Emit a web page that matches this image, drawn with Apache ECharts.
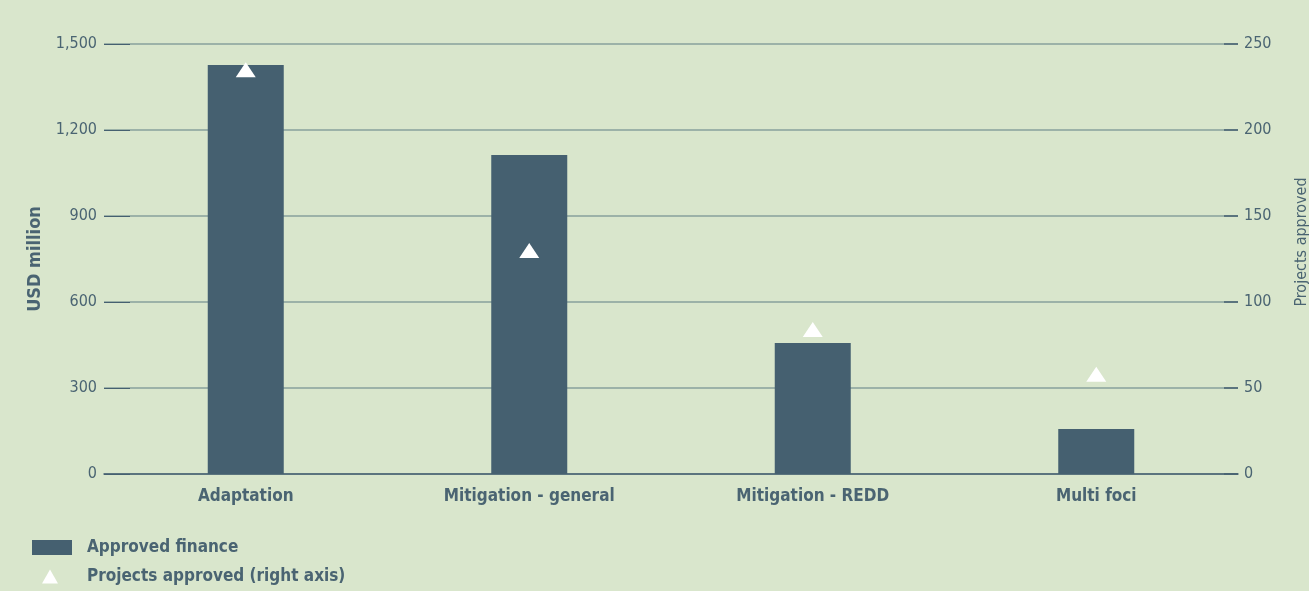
<!DOCTYPE html>
<html><head><meta charset="utf-8">
<script src="https://cdn.jsdelivr.net/npm/echarts@6/dist/echarts.min.js"></script>
<style>html,body{margin:0;padding:0;background:#d9e6cc;}#c{width:1309px;height:591px;}</style>
</head><body><div id="c"></div>
<script>
const categories = ['Adaptation', 'Mitigation - general', 'Mitigation - REDD', 'Multi foci'];
const approvedFinance = [1427, 1113, 457, 157];
const projectsApproved = [235, 130, 84, 58];
const leftTicks = { min: 0, max: 1500, interval: 300 };
const rightTicks = { min: 0, max: 250, interval: 50 };

const txt = '#4a6472';
const dark = '#456070';
const font = 'DejaVu Sans Condensed';
const chart = echarts.init(document.getElementById('c'));
chart.setOption({
  backgroundColor: '#d9e6cc',
  animation: false,
  textStyle: { fontFamily: font },
  grid: { left: 104, right: 71, top: 44, bottom: 117, outerBoundsMode: 'none' },
  legend: [{
    data: [{ name: 'Approved finance', icon: 'rect' }],
    orient: 'vertical', left: 27, top: 534,
    itemWidth: 40, itemHeight: 15,
    textStyle: { color: txt, fontSize: 17, fontWeight: 'bold', fontFamily: font, padding: [0, 0, 0, 10] }
  }, {
    data: [{ name: 'Projects approved (right axis)', icon: 'triangle' }],
    orient: 'vertical', left: 37, top: 563,
    itemWidth: 16, itemHeight: 14,
    textStyle: { color: txt, fontSize: 17, fontWeight: 'bold', fontFamily: font, padding: [0, 0, 0, 24] }
  }],
  xAxis: {
    type: 'category', data: categories,
    axisLine: { lineStyle: { color: dark, width: 1.5 } },
    axisTick: { show: false },
    axisLabel: { color: txt, fontSize: 17, fontWeight: 'bold', margin: 14 }
  },
  yAxis: [{
    type: 'value', min: leftTicks.min, max: leftTicks.max, interval: leftTicks.interval,
    name: 'USD million', nameLocation: 'middle', nameGap: 60, nameRotate: 90,
    nameTextStyle: { color: txt, fontSize: 18, fontWeight: 'bold' },
    axisLine: { show: false },
    axisTick: { show: true, inside: true, length: 26, lineStyle: { color: dark } },
    axisLabel: { color: txt, fontSize: 16, margin: 7, formatter: v => v.toLocaleString('en-US') },
    splitLine: { lineStyle: { color: '#87a09c', width: 1.5 } }
  }, {
    type: 'value', position: 'right', min: rightTicks.min, max: rightTicks.max, interval: rightTicks.interval,
    name: 'Projects approved', nameLocation: 'middle', nameGap: 56, nameRotate: 90,
    nameTextStyle: { color: txt, fontSize: 16, padding: [0, 0, 0, 34] },
    axisLine: { show: false },
    axisTick: { show: true, inside: true, length: 14, lineStyle: { color: dark, width: 1.5 } },
    axisLabel: { color: txt, fontSize: 16, margin: 6 },
    splitLine: { show: false }
  }],
  series: [{
    name: 'Approved finance', type: 'bar', data: approvedFinance,
    barWidth: 76, itemStyle: { color: '#456070' }
  }, {
    name: 'Projects approved (right axis)', type: 'scatter', yAxisIndex: 1,
    data: projectsApproved, symbol: 'triangle', symbolSize: [20, 15],
    itemStyle: { color: '#ffffff', opacity: 1 }
  }]
});
</script></body></html>
